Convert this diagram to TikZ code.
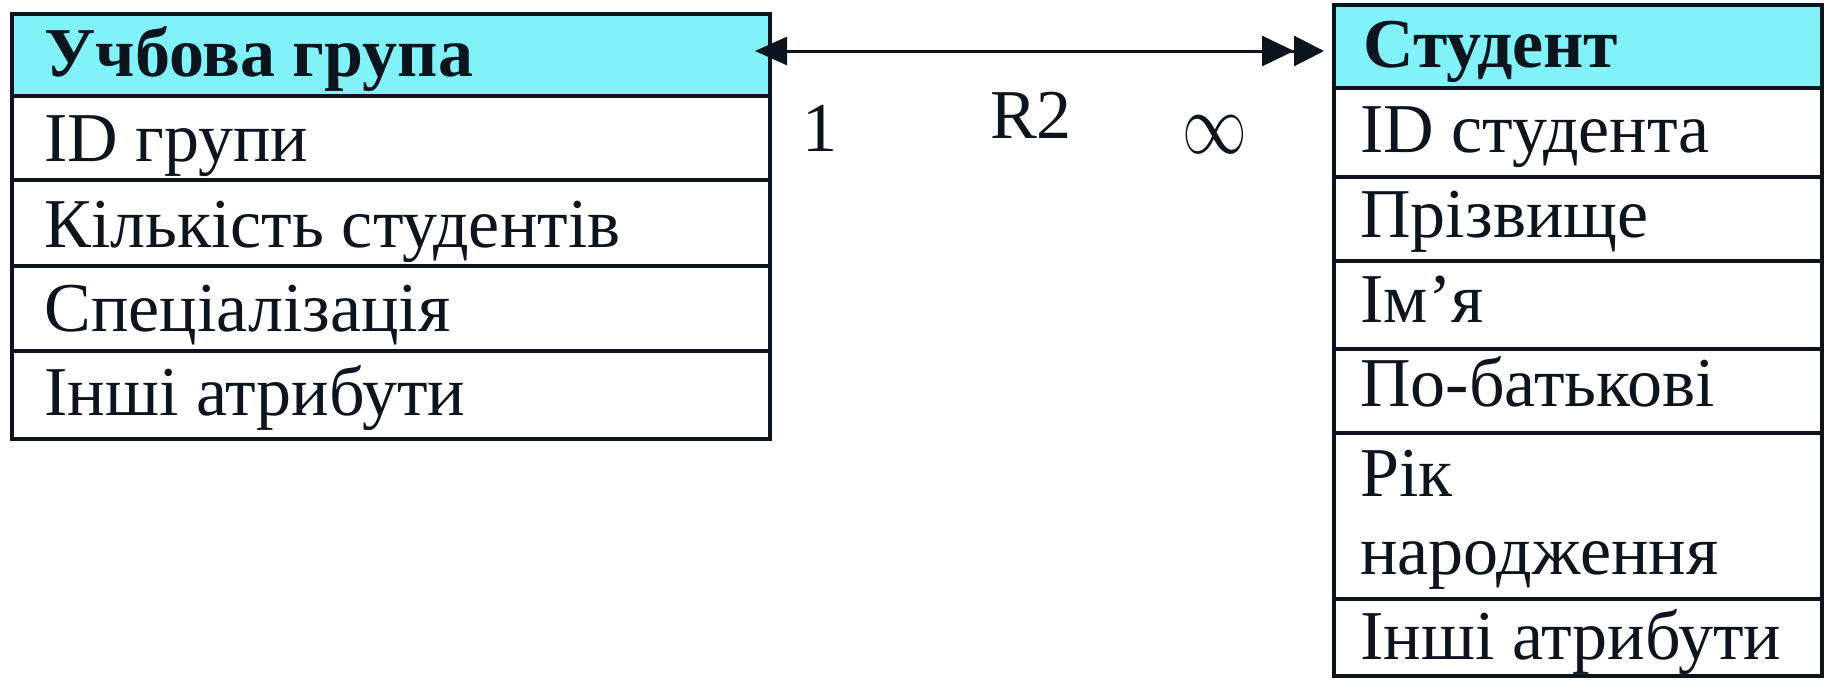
\documentclass[tikz,border=0pt]{standalone}
\usepackage{graphicx}
\usepackage{fontspec}
\setmainfont{Liberation Serif}
\usetikzlibrary{arrows.meta}
\definecolor{hdrcyan}{RGB}{128,242,248}
\definecolor{ink}{RGB}{12,20,30}
\begin{document}
\begin{tikzpicture}[x=0.5pt,y=-0.5pt,
  cellbox/.style={draw=ink,line width=1.6pt,fill=white,inner sep=0pt,anchor=north west,outer sep=0pt},
  hdrbox/.style={cellbox,fill=hdrcyan},
  celltext/.style={anchor=base west,inner sep=0pt,text=ink,font=\fontsize{35}{39}\selectfont},
  hdrtext/.style={celltext,font=\fontsize{35}{39}\selectfont\bfseries},
  cardtext/.style={anchor=base,inner sep=0pt,text=ink,font=\fontsize{35}{39}\selectfont},
  rel/.style={draw=ink,line width=1.5pt}]
\useasboundingbox (0,0) rectangle (1835,680);
% left table: Учбова група
\node[hdrbox,minimum width=379pt,minimum height=41pt] (gh) at (12,14) {};
\node[cellbox,minimum width=379pt,minimum height=42pt] (g1) at (12,96) {};
\node[cellbox,minimum width=379pt,minimum height=43pt] (g2) at (12,180) {};
\node[cellbox,minimum width=379pt,minimum height=42.5pt] (g3) at (12,266) {};
\node[cellbox,minimum width=379pt,minimum height=44pt] (g4) at (12,351) {};
\node[hdrtext] (ght) at (44,76) {Учбова група};
\node[celltext] (g1t) at (44,161) {ID групи};
\node[celltext] (g2t) at (44,247) {Кількість студентів};
\node[celltext] (g3t) at (44,331) {Спеціалізація};
\node[celltext] (g4t) at (44,415) {Інші атрибути};
% right table: Студент
\node[hdrbox,minimum width=244pt,minimum height=41.5pt] (sh) at (1334,5) {};
\node[cellbox,minimum width=244pt,minimum height=44.5pt] (s1) at (1334,88) {};
\node[cellbox,minimum width=244pt,minimum height=42pt] (s2) at (1334,177) {};
\node[cellbox,minimum width=244pt,minimum height=44pt] (s3) at (1334,261) {};
\node[cellbox,minimum width=244pt,minimum height=42pt] (s4) at (1334,349) {};
\node[cellbox,minimum width=244pt,minimum height=83pt] (s5) at (1334,433) {};
\node[cellbox,minimum width=244pt,minimum height=38.5pt] (s6) at (1334,599) {};
\node[hdrtext] (sht) at (1363,67) {Студент};
\node[celltext] (s1t) at (1360,152) {ID студента};
\node[celltext] (s2t) at (1360,237) {Прізвище};
\node[celltext] (s3t) at (1360,322) {Ім’я};
\node[celltext] (s4t) at (1360,406) {По-батькові};
\node[celltext] (s5t) at (1360,496) {Рік};
\node[celltext] (s5u) at (1360,574) {народження};
\node[celltext] (s6t) at (1360,659) {Інші атрибути};
% relationship
\coordinate (relY) at (0,51);
\draw[rel,{Triangle[length=16pt,width=14pt]}-{Triangle[length=16pt,width=15pt] Triangle[length=15pt,width=15pt,sep=5pt]},shorten <=-7.5pt]
  (gh.east |- relY) -- (sh.west |- relY);
\node[cardtext] (c1) at (820,151) {1};
\node[cardtext] (c2) at (1031,138) {R2};
\node[cardtext] (c3) at (1215,153) {\scalebox{1.3}[1.75]{$\infty$}};
\end{tikzpicture}
\end{document}
